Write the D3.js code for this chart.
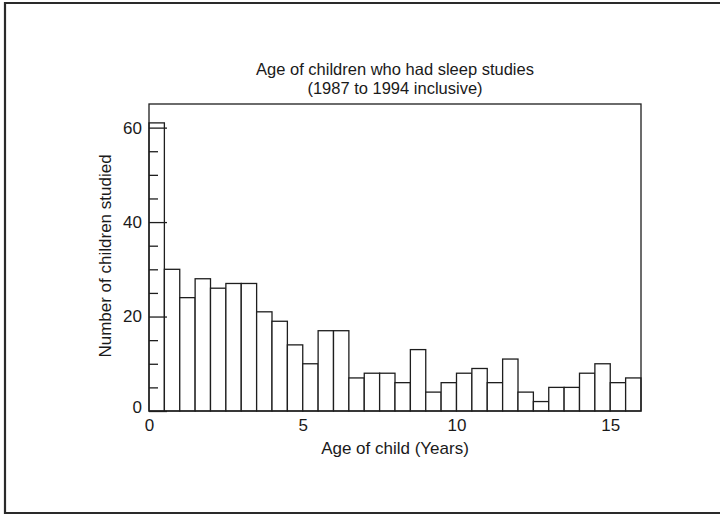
<!DOCTYPE html>
<html>
<head>
<meta charset="utf-8">
<script src="https://cdn.jsdelivr.net/npm/d3@7"></script>
<style>
  html, body { margin: 0; padding: 0; background: #fff; }
  svg { display: block; }
  text { font-family: "Liberation Sans", Arial, Helvetica, sans-serif; fill: #1a1a1a; }
</style>
</head>
<body>
<svg id="chart" width="720" height="515"></svg>
<script>
// ---- data ----
const titleLines = ["Age of children who had sleep studies", "(1987 to 1994 inclusive)"];
const xLabel = "Age of child (Years)";
const yLabel = "Number of children studied";
const binStarts = [0,0.5,1,1.5,2,2.5,3,3.5,4,4.5,5,5.5,6,6.5,7,7.5,8,8.5,9,9.5,10,10.5,11,11.5,12,12.5,13,13.5,14,14.5,15,15.5];
const binWidth = 0.5;
const counts = [61,30,24,28,26,27,27,21,19,14,10,17,17,7,8,8,6,13,4,6,8,9,6,11,4,2,5,5,8,10,6,7];
const xTicks = [0,5,10,15];
const yMajorTicks = [0,20,40,60];
const yMinorTicks = [5,10,15,25,30,35,45,50,55];
const xDomain = [0,16];
const yDomain = [0,65];

// ---- layout ----
const svg = d3.select("#chart");
const plot = {left:149, right:641, top:104, bottom:411};
const ink = "#1e1e1e";

const x = d3.scaleLinear().domain(xDomain).range([plot.left, plot.right]);
const y = d3.scaleLinear().domain(yDomain).range([plot.bottom, plot.top]);

// outer frame (left, top, bottom edges)
svg.append("path")
  .attr("d", "M720,3 H5 V513 H720")
  .attr("fill","none").attr("stroke","#2a2a2a").attr("stroke-width",2.2);

// bars
svg.append("g").selectAll("rect")
  .data(binStarts.map((s,i)=>({s, c:counts[i]})))
  .join("rect")
  .attr("x", d=>x(d.s))
  .attr("y", d=>y(d.c))
  .attr("width", d=>x(d.s+binWidth)-x(d.s))
  .attr("height", d=>y(0)-y(d.c))
  .attr("fill","#fff").attr("stroke",ink).attr("stroke-width",1.3);

// plot box
svg.append("rect")
  .attr("x",plot.left).attr("y",plot.top)
  .attr("width",plot.right-plot.left).attr("height",plot.bottom-plot.top)
  .attr("fill","none").attr("stroke",ink).attr("stroke-width",1.3);

// y axis major ticks (inward) with labels
const yMajor = svg.append("g").attr("transform",`translate(${plot.left},0)`)
  .call(d3.axisLeft(y).tickValues(yMajorTicks).tickSizeInner(-18).tickSizeOuter(0).tickPadding(7).tickFormat(d3.format("d")));
yMajor.select(".domain").remove();
yMajor.selectAll("line").attr("stroke",ink).attr("stroke-width",1.3);
yMajor.selectAll("text").attr("font-size",17).attr("x",-7).attr("fill","#1a1a1a")
  .attr("font-family",'"Liberation Sans", Arial, sans-serif');
yMajor.selectAll(".tick").filter(d=>d===0).select("text").attr("dy","0.1em");

// y axis minor ticks
const yMinor = svg.append("g").attr("transform",`translate(${plot.left},0)`)
  .call(d3.axisLeft(y).tickValues(yMinorTicks).tickSizeInner(-9).tickSizeOuter(0).tickFormat(""));
yMinor.select(".domain").remove();
yMinor.selectAll("line").attr("stroke",ink).attr("stroke-width",1.3);

// x axis labels (no ticks)
const xAxis = svg.append("g").attr("transform",`translate(0,${plot.bottom})`)
  .call(d3.axisBottom(x).tickValues(xTicks).tickSize(0).tickPadding(8).tickFormat(d3.format("d")));
xAxis.select(".domain").remove();
xAxis.selectAll("text").attr("font-size",17).attr("fill","#1a1a1a")
  .attr("font-family",'"Liberation Sans", Arial, sans-serif');

// titles
const cx = (plot.left+plot.right)/2;
svg.append("text").attr("x",cx).attr("y",75).attr("text-anchor","middle").attr("font-size",16.5).text(titleLines[0]);
svg.append("text").attr("x",cx).attr("y",94).attr("text-anchor","middle").attr("font-size",16.5).text(titleLines[1]);
svg.append("text").attr("x",cx).attr("y",454).attr("text-anchor","middle").attr("font-size",17).text(xLabel);
svg.append("text").attr("transform",`translate(111,256) rotate(-90)`).attr("text-anchor","middle").attr("font-size",17).text(yLabel);
</script>
</body>
</html>
